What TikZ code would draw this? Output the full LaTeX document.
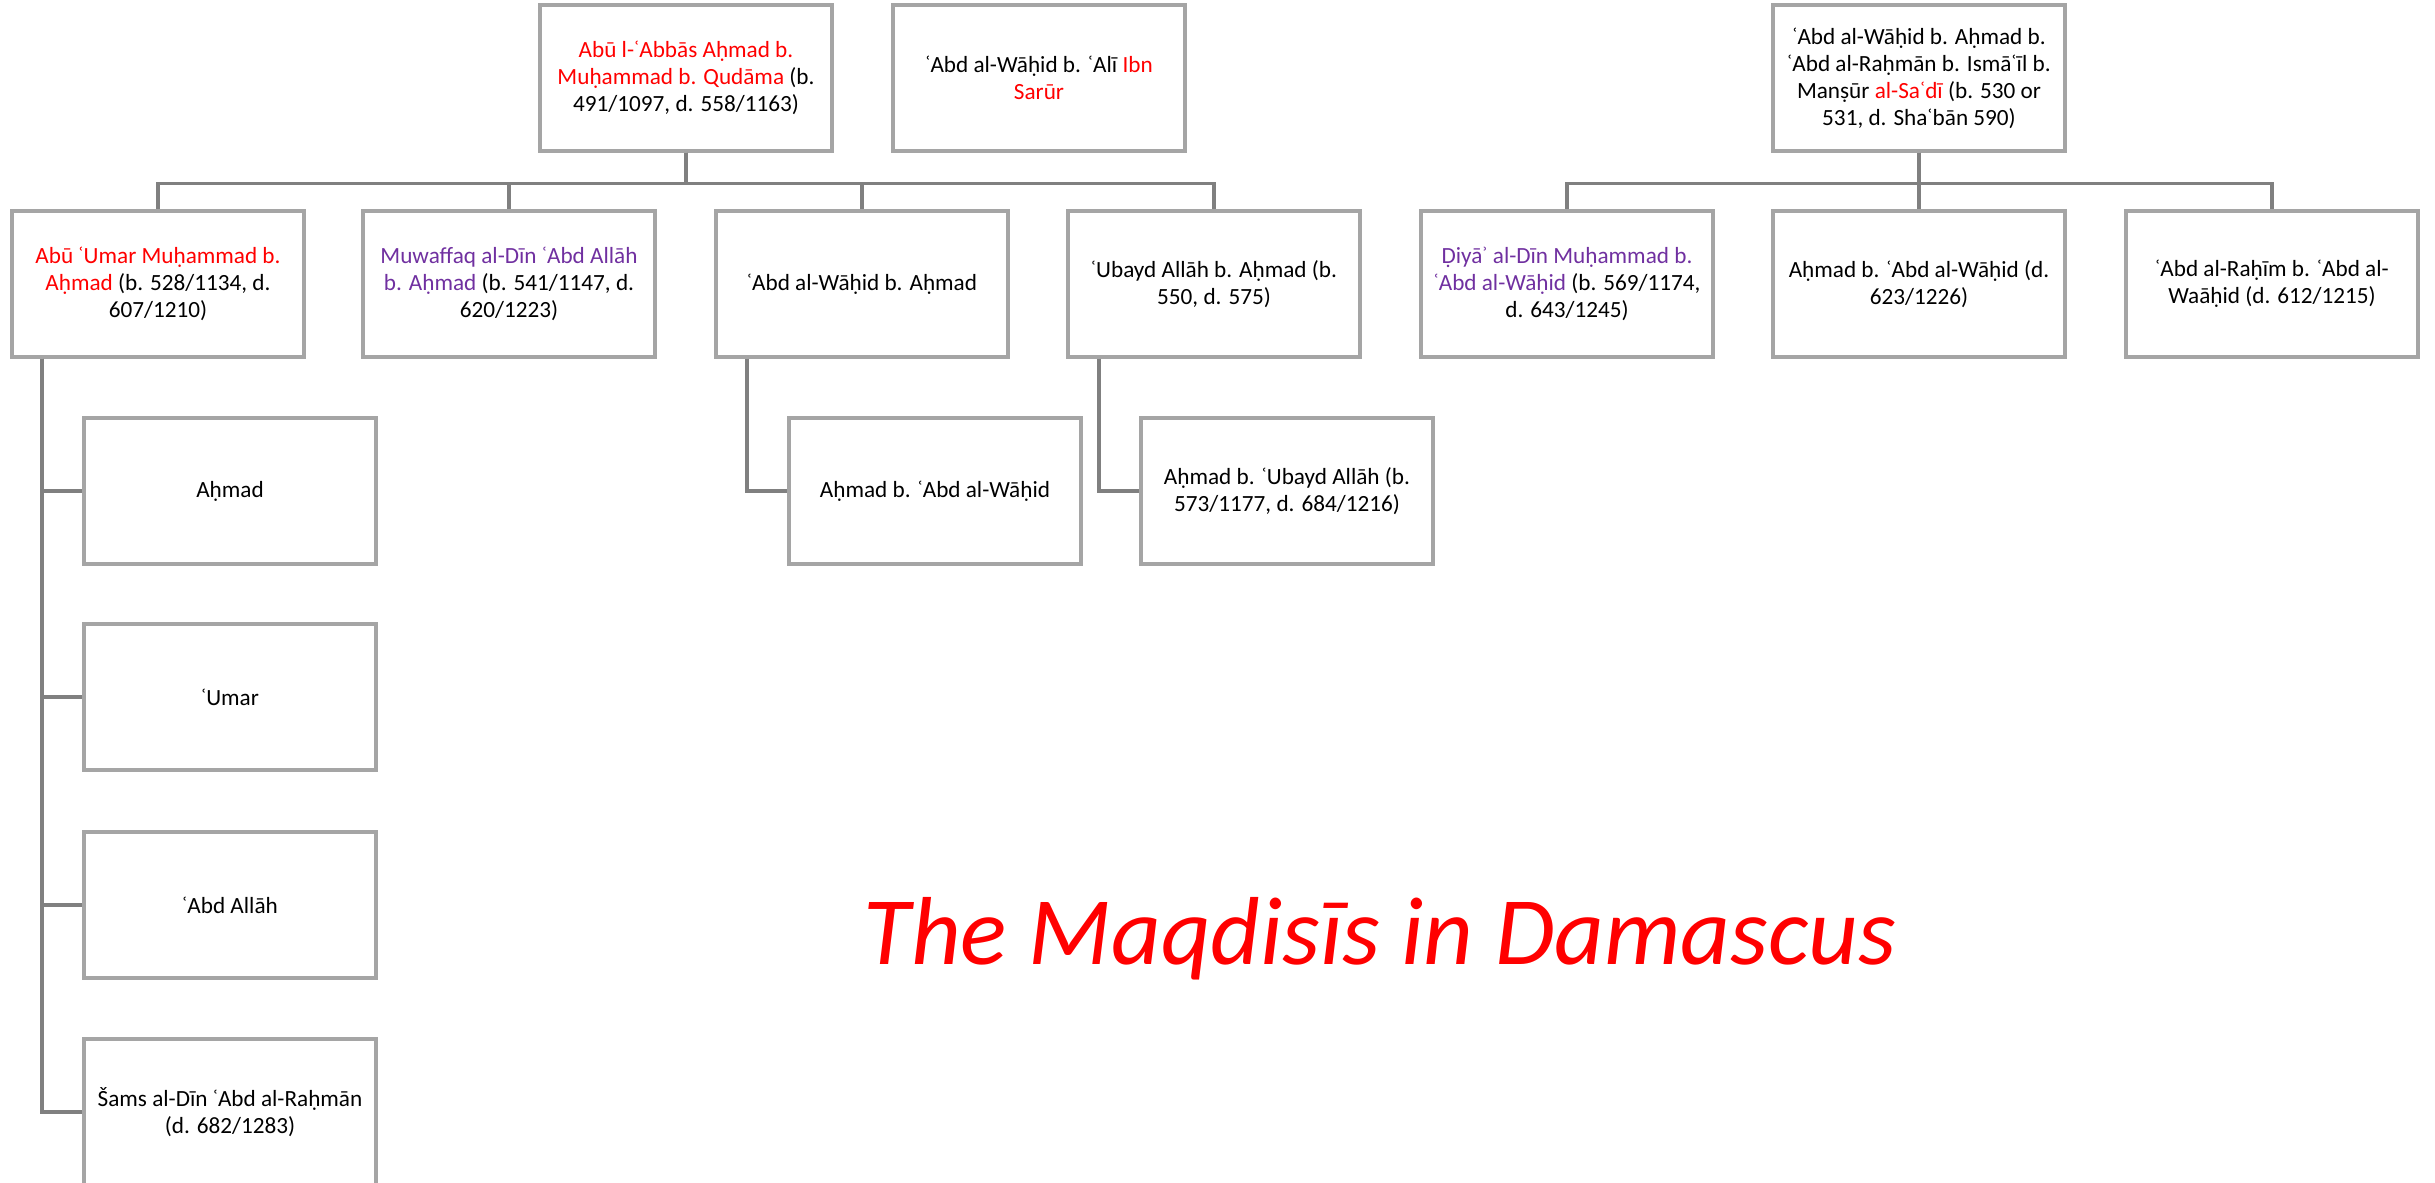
\documentclass[tikz,border=0pt]{standalone}
\usepackage{fontspec}
\setmainfont{Carlito}
\usepackage{tikz}
\usetikzlibrary{positioning}

\definecolor{boxline}{RGB}{165,165,165}
\definecolor{linkline}{RGB}{128,128,128}
\definecolor{namered}{RGB}{255,0,0}
\definecolor{namepurple}{RGB}{112,48,160}
\newcommand{\nred}[1]{\textcolor{namered}{#1}}
\newcommand{\npurple}[1]{\textcolor{namepurple}{#1}}

\begin{document}
\begin{tikzpicture}[
  person/.style={draw=boxline, line width=0.9pt, rectangle, minimum width=2.92cm, minimum height=1.46cm, inner sep=1pt, align=center, font=\fontsize{6.6}{7.7}\selectfont},
  link/.style={draw=linkline, line width=0.9pt}]
\useasboundingbox (0,0) rectangle (24.35,-11.82);

% First generation
\node[person] (abbas) at (6.86,-0.78) {\nred{Abū l-ʿAbbās Aḥmad b.}\\\nred{Muḥammad b. Qudāma} (b.\\491/1097, d. 558/1163)};
\node[person] (sarur) at (10.39,-0.78) {ʿAbd al-Wāḥid b. ʿAlī \nred{Ibn}\\\nred{Sarūr}};
\node[person] (sadi) at (19.19,-0.78) {ʿAbd al-Wāḥid b. Aḥmad b.\\ʿAbd al-Raḥmān b. Ismāʿīl b.\\Manṣūr \nred{al-Saʿdī} (b. 530 or\\531, d. Shaʿbān 590)};

% Second generation
\node[person] (abuumar) at (1.58,-2.84) {\nred{Abū ʿUmar Muḥammad b.}\\\nred{Aḥmad} (b. 528/1134, d.\\607/1210)};
\node[person] (muwaffaq) at (5.09,-2.84) {\npurple{Muwaffaq al-Dīn ʿAbd Allāh}\\\npurple{b. Aḥmad} (b. 541/1147, d.\\620/1223)};
\node[person] (wahid) at (8.62,-2.84) {ʿAbd al-Wāḥid b. Aḥmad};
\node[person] (ubayd) at (12.14,-2.84) {ʿUbayd Allāh b. Aḥmad (b.\\550, d. 575)};
\node[person] (diya) at (15.67,-2.84) {\npurple{Ḍiyāʾ al-Dīn Muḥammad b.}\\\npurple{ʿAbd al-Wāḥid} (b. 569/1174,\\d. 643/1245)};
\node[person] (ahmadsadi) at (19.19,-2.84) {Aḥmad b. ʿAbd al-Wāḥid (d.\\623/1226)};
\node[person] (rahim) at (22.72,-2.84) {ʿAbd al-Raḥīm b. ʿAbd al-\\Waāḥid (d. 612/1215)};

% Third generation
\node[person] (ahmadwahid) at (9.35,-4.91) {Aḥmad b. ʿAbd al-Wāḥid};
\node[person] (ahmadubayd) at (12.87,-4.91) {Aḥmad b. ʿUbayd Allāh (b.\\573/1177, d. 684/1216)};
\node[person] (ahmad) at (2.30,-4.91) {Aḥmad};
\node[person] (umar) at (2.30,-6.97) {ʿUmar};
\node[person] (abdallah) at (2.30,-9.05) {ʿAbd Allāh};
\node[person] (shams) at (2.30,-11.12) {Šams al-Dīn ʿAbd al-Raḥmān\\(d. 682/1283)};

% Lines
\foreach \child in {abuumar, muwaffaq, wahid, ubayd}
  \draw[link] (abbas.south) -- ++(0,-0.31) -| (\child.north);
\foreach \child in {diya, ahmadsadi, rahim}
  \draw[link] (sadi.south) -- ++(0,-0.31) -| (\child.north);
\draw[link] ([xshift=-1.15cm]wahid.south) |- (ahmadwahid.west);
\draw[link] ([xshift=-1.15cm]ubayd.south) |- (ahmadubayd.west);
\foreach \child in {ahmad, umar, abdallah, shams}
  \draw[link] ([xshift=-1.16cm]abuumar.south) |- (\child.west);

% Title
\node[anchor=base, text=namered, font=\fontsize{27.5}{33}\selectfont\itshape] (title) at (13.80,-9.64) {The Maqdisīs in Damascus};

\end{tikzpicture}
\end{document}
